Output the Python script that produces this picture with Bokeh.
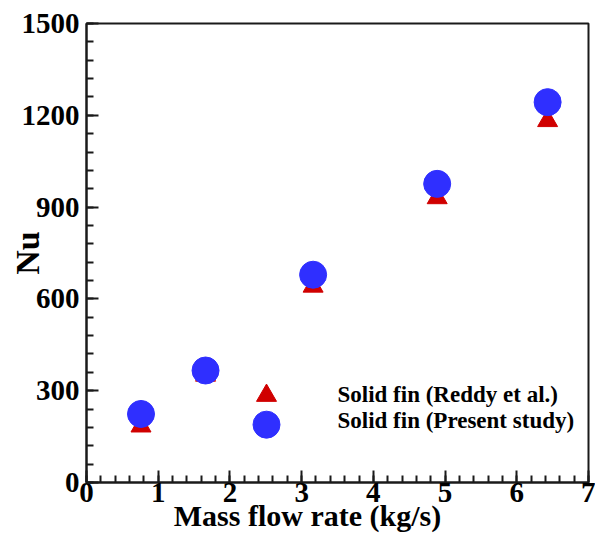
from bokeh.plotting import figure
from bokeh.models import Range1d, SingleIntervalTicker, Label
from bokeh.embed import file_html
from bokeh.resources import INLINE

# Data
mass_flow = [0.76, 1.66, 2.51, 3.16, 4.89, 6.43]
nu_reddy = [184, 350, 284, 641, 930, 1182]
nu_present = [224, 366, 189, 679, 976, 1243]

legend_labels = ["Solid fin (Reddy et al.)", "Solid fin (Present study)"]
x_title = "Mass flow rate (kg/s)"
y_title = "Nu"

FONT = "Liberation Serif"

p = figure(width=595, height=534, output_backend="svg", toolbar_location=None,
           x_range=Range1d(0, 7), y_range=Range1d(0, 1500),
           min_border_left=86, min_border_right=7, min_border_top=23, min_border_bottom=52)
p.grid.visible = False
p.background_fill_color = "white"
p.border_fill_color = "white"
p.outline_line_color = "#1a1a1a"
p.outline_line_width = 2

p.xaxis.ticker = SingleIntervalTicker(interval=1, num_minor_ticks=5)
p.yaxis.ticker = SingleIntervalTicker(interval=300, num_minor_ticks=5)
for ax in (p.xaxis, p.yaxis):
    ax.axis_line_color = "#1a1a1a"
    ax.axis_line_width = 2
    ax.major_tick_line_color = "#1a1a1a"
    ax.minor_tick_line_color = "#1a1a1a"
    ax.major_tick_line_width = 2
    ax.minor_tick_line_width = 2
    ax.major_tick_in = 12
    ax.major_tick_out = 0
    ax.minor_tick_in = 7
    ax.minor_tick_out = 0
    ax.major_label_text_font = FONT
    ax.major_label_text_font_style = "bold"
    ax.major_label_text_font_size = "29px"
    ax.major_label_text_color = "black"
    ax.axis_label_text_font = FONT
    ax.axis_label_text_font_style = "bold"
    ax.axis_label_text_color = "black"
p.xaxis.major_label_standoff = 0
p.yaxis.major_label_standoff = 7

# trailing no-break spaces shift the centred title left, as in the reference
p.xaxis.axis_label = x_title + "\u00a0" * 8
p.xaxis.axis_label_text_font_size = "30px"
p.xaxis.axis_label_standoff = -6
p.yaxis.axis_label = y_title
p.yaxis.axis_label_text_font_size = "34px"
p.yaxis.axis_label_standoff = -27

p.scatter(mass_flow, nu_reddy, marker="triangle", size=20,
          fill_color="#d00000", line_color="#d00000")
p.scatter(mass_flow, nu_present, marker="circle", size=27,
          fill_color="#2f2fff", line_color="#2f2fff")

# Legend text (no marker glyphs shown in the reference)
legend_y = [287, 202]
for txt, ly in zip(legend_labels, legend_y):
    p.add_layout(Label(x=3.50, y=ly, text=txt, text_font=FONT, text_font_style="bold",
                       text_font_size="23px", text_color="black",
                       text_align="left", text_baseline="middle"))

open("out.html", "w").write(file_html(p, INLINE))
